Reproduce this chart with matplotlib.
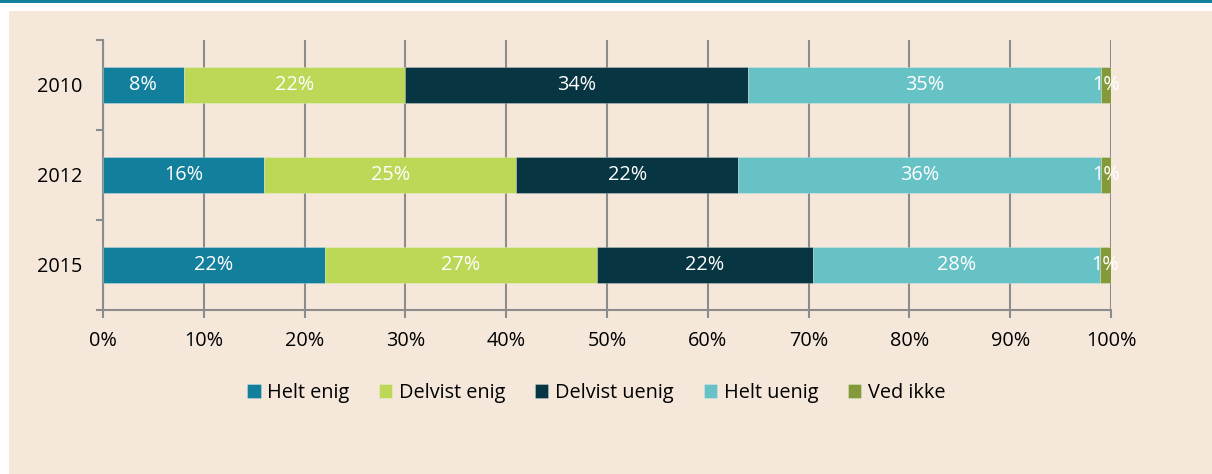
import numpy as np
import matplotlib.pyplot as plt
from matplotlib.patches import Rectangle

years = ["2010", "2012", "2015"]
series = ["Helt enig", "Delvist enig", "Delvist uenig", "Helt uenig", "Ved ikke"]
helt_enig = [8, 16, 22]
delvist_enig = [22, 25, 27]
delvist_uenig = [34, 22, 21.4]
helt_uenig = [35, 36, 28.5]
ved_ikke = [1, 1, 1.1]
labels = [
    ["8%", "16%", "22%"],
    ["22%", "25%", "27%"],
    ["34%", "22%", "22%"],
    ["35%", "36%", "28%"],
    ["1%", "1%", "1%"],
]
xticks = np.arange(0, 101, 10)

colors = ["#127F9C", "#BDD757", "#083542", "#67C2C6", "#83993A"]
bg = "#F5E8DB"
grid_col = "#8C8C8C"
fs = 14.3

plt.rcParams['font.family'] = ['Open Sans', 'DejaVu Sans']

fig = plt.figure(figsize=(12.12, 4.74), dpi=100)
fig.patch.set_facecolor("white")
fig.patches.append(Rectangle((9 / 1212, 0), 1, (474 - 11) / 474, transform=fig.transFigure,
                             facecolor=bg, edgecolor="none", zorder=-10))
fig.patches.append(Rectangle((0, (474 - 2.5) / 474), 1, 2.5 / 474, transform=fig.transFigure,
                             facecolor="#127F9C", edgecolor="none", zorder=-10))

ax = fig.add_axes([103 / 1212, (474 - 310) / 474, (1111 - 103) / 1212, 270 / 474])
ax.set_facecolor("none")

data = [helt_enig, delvist_enig, delvist_uenig, helt_uenig, ved_ikke]
y = np.arange(len(years))
left = np.zeros(len(years))
for vals, name, col, labs in zip(data, series, colors, labels):
    vals = np.array(vals, dtype=float)
    ax.barh(y, vals, left=left, height=0.39, color=col, label=name, zorder=3,
            edgecolor=(1, 1, 1, 0.3), linewidth=0.6)
    for yi, l, v, t in zip(y, left, vals, labs):
        ax.text(l + v / 2, yi, t, ha="center", va="center", color="white",
                fontsize=fs, zorder=4)
    left = left + vals

ax.set_xlim(0, 100)
ax.set_ylim(2.5, -0.5)
ax.set_xticks(xticks)
ax.set_xticklabels([f"{v}%" for v in xticks], fontsize=fs)
ax.set_yticks(y)
ax.set_yticklabels(years, fontsize=fs)
ax.set_yticks([-0.5, 0.5, 1.5, 2.5], minor=True)
ax.tick_params(axis="y", which="major", length=0, pad=15)
ax.tick_params(axis="y", which="minor", length=5, width=1.5, color=grid_col)
ax.tick_params(axis="x", length=5.8, width=1.5, color=grid_col, pad=9)
ax.grid(axis="x", color=grid_col, linewidth=1.5, zorder=1)
for s in ["top", "right"]:
    ax.spines[s].set_visible(False)
for s in ["left", "bottom"]:
    ax.spines[s].set_color(grid_col)
    ax.spines[s].set_linewidth(1.5)

fig.legend(loc="center", bbox_to_anchor=(0.492, 1 - 393 / 474), ncol=5, frameon=False,
           fontsize=fs, handlelength=0.66, handleheight=0.66, handletextpad=0.34,
           columnspacing=1.5)

fig.savefig("out.png", dpi=100, facecolor=fig.get_facecolor())
